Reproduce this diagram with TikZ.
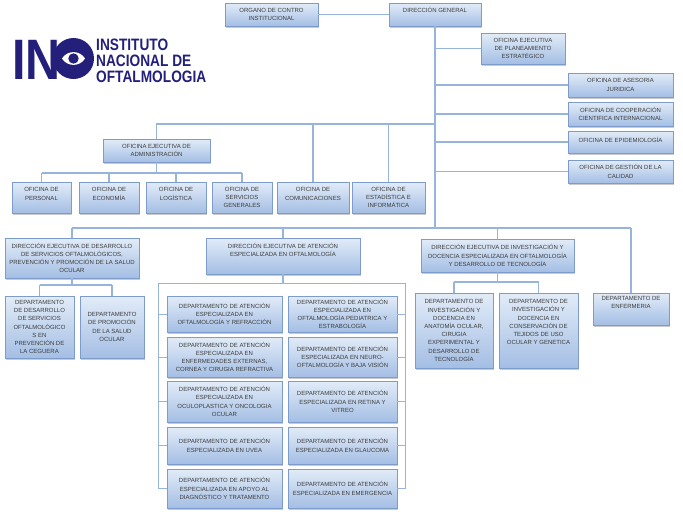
\documentclass[tikz,border=0pt]{standalone}
\usepackage{fontspec}
\setmainfont{Liberation Sans}
\usepackage{tikz}
\usetikzlibrary{shadows}
\definecolor{boxtop}{HTML}{E2ECF8}
\definecolor{boxbot}{HTML}{A4BEE4}
\definecolor{boxedge}{HTML}{7E9CCB}
\definecolor{linkc}{HTML}{97B4DC}
\definecolor{boxtext}{HTML}{3C3C3C}
\definecolor{inoblue}{HTML}{231F7A}
\newcommand\boxfont{\fontsize{6}{8.2}\selectfont}

\begin{document}
\begin{tikzpicture}[x=1pt, y=-1pt,
  unit/.style={draw=boxedge, line width=0.5pt, top color=boxtop, bottom color=boxbot, text=boxtext, font=\boxfont, align=center, inner sep=1pt, drop shadow={shadow xshift=1.2pt, shadow yshift=-1.5pt, fill=black!60, opacity=0.35}},
  sz/.style 2 args={minimum width=#1, minimum height=#2},
  lift/.style={text depth=#1},
  link/.style={draw=linkc, line width=1.1pt}]
\useasboundingbox (0,0) rectangle (683,520);
%logo
\node[anchor=base west, inner sep=0, text=inoblue, font=\fontsize{57}{57}\selectfont\bfseries] (ino) at (12,79) {\scalebox{0.85}[1]{IN}};
\node[circle, fill=inoblue, minimum size=41, inner sep=0] (ojo) at (73.5,58.5) {};
\coordinate (el) at (62,58.5);
\coordinate (er) at (85,58.5);
\fill[white] (el) .. controls +(5,-8.5) and +(-5,-8.5) .. (er) .. controls +(-5,8.5) and +(5,8.5) .. (el) -- cycle;
\fill[inoblue] (ojo.center) circle (5.2);
\node[anchor=north west, inner sep=0, text=inoblue, font=\fontsize{16.5}{16}\selectfont\bfseries] (ins) at (96,38.5) {\scalebox{0.83}[1]{\begin{tabular}{@{}l@{}}INSTITUTO\\NACIONAL DE\\OFTALMOLOGIA\end{tabular}}};

%alta direccion
\node[unit, sz={93}{23}] (oci) at (271.5,14.5) {ORGANO DE CONTRO\\INSTITUCIONAL};
\node[unit, sz={92}{23}, lift=9] (dg) at (435,14.5) {DIRECCIÓN GENERAL};
%asesoria
\node[unit, sz={84}{31}] (oplan) at (523,48.5) {OFICINA EJECUTIVA\\DE PLANEAMIENTO\\ESTRATÉGICO};
\node[unit, sz={105}{24}] (ojur) at (620.5,85) {OFICINA DE ASESORIA\\JURIDICA};
\node[unit, sz={105}{24}] (ocoop) at (620.5,114) {OFICINA DE COOPERACIÓN\\CIENTIFICA INTERNACIONAL};
\node[unit, sz={105}{22}, lift=5] (oepi) at (620.5,142) {OFICINA DE EPIDEMIOLOGÍA};
\node[unit, sz={105}{23}] (ocal) at (620.5,171.5) {OFICINA DE GESTIÓN DE LA\\CALIDAD};
%apoyo
\node[unit, sz={107}{23}] (oadm) at (156.5,150.5) {OFICINA EJECUTIVA DE\\ADMINISTRACIÓN};
\node[unit, sz={59}{31}, lift=7] (oper) at (41.5,197.5) {OFICINA DE\\PERSONAL};
\node[unit, sz={60}{31}, lift=7] (oeco) at (109,197.5) {OFICINA DE\\ECONOMÍA};
\node[unit, sz={60}{31}, lift=7] (olog) at (176,197.5) {OFICINA DE\\LOGÍSTICA};
\node[unit, sz={60}{31}] (oser) at (242,197.5) {OFICINA DE\\SERVICIOS\\GENERALES};
\node[unit, sz={72}{31}, lift=7] (ocom) at (313,197.5) {OFICINA DE\\COMUNICACIONES};
\node[unit, sz={73}{31}] (oest) at (388.5,197.5) {OFICINA DE\\ESTADÍSTICA E\\INFORMÁTICA};
%linea
\node[unit, sz={134}{40}] (dedes) at (72,258) {DIRECCIÓN EJECUTIVA DE DESARROLLO\\DE SERVICIOS OFTALMOLÓGICOS,\\PREVENCIÓN Y PROMOCIÓN DE LA SALUD\\OCULAR};
\node[unit, sz={69}{62}] (ddes) at (39.5,327) {DEPARTAMENTO\\DE DESARROLLO\\DE SERVICIOS\\OFTALMOLÓGICO\\S EN\\PREVENCIÓN DE\\LA CEGUERA};
\node[unit, sz={64}{62}] (dpro) at (112,327) {DEPARTAMENTO\\DE PROMOCIÓN\\DE LA SALUD\\OCULAR};
\node[unit, sz={154}{36}, lift=13] (deate) at (283,256) {DIRECCIÓN EJECUTIVA DE ATENCIÓN\\ESPECIALIZADA EN OFTALMOLOGÍA};
\node[unit, sz={115}{36}] (atl1) at (224.5,314) {DEPARTAMENTO DE ATENCIÓN\\ESPECIALIZADA EN\\OFTALMOLOGÍA Y REFRACCIÓN};
\node[unit, sz={115}{40}] (atl2) at (224.5,357) {DEPARTAMENTO DE ATENCIÓN\\ESPECIALIZADA EN\\ENFERMEDADES EXTERNAS,\\CORNEA Y CIRUGIA REFRACTIVA};
\node[unit, sz={115}{41}] (atl3) at (224.5,401.5) {DEPARTAMENTO DE ATENCIÓN\\ESPECIALIZADA EN\\OCULOPLASTICA Y ONCOLOGIA\\OCULAR};
\node[unit, sz={115}{37}] (atl4) at (224.5,445.5) {DEPARTAMENTO DE ATENCIÓN\\ESPECIALIZADA EN UVEA};
\node[unit, sz={115}{39}] (atl5) at (224.5,488.5) {DEPARTAMENTO DE ATENCIÓN\\ESPECIALIZADA EN APOYO AL\\DIAGNÓSTICO Y TRATAMENTO};
\node[unit, sz={109}{36}] (atr1) at (342.5,314) {DEPARTAMENTO DE ATENCIÓN\\ESPECIALIZADA EN\\OFTALMOLOGÍA PEDIATRICA Y\\ESTRABOLOGÍA};
\node[unit, sz={109}{40}] (atr2) at (342.5,357) {DEPARTAMENTO DE ATENCIÓN\\ESPECIALIZADA EN NEURO-\\OFTALMOLOGÍA Y BAJA VISIÓN};
\node[unit, sz={109}{41}] (atr3) at (342.5,401.5) {DEPARTAMENTO DE ATENCIÓN\\ESPECIALIZADA EN RETINA Y\\VITREO};
\node[unit, sz={109}{37}] (atr4) at (342.5,445.5) {DEPARTAMENTO DE ATENCIÓN\\ESPECIALIZADA EN GLAUCOMA};
\node[unit, sz={109}{39}] (atr5) at (342.5,488.5) {DEPARTAMENTO DE ATENCIÓN\\ESPECIALIZADA EN EMERGENCIA};
\node[unit, sz={153}{33}] (deinv) at (497.5,255.5) {DIRECCIÓN EJECUTIVA DE INVESTIGACIÓN Y\\DOCENCIA ESPECIALIZADA EN OFTALMOLOGÍA\\Y DESARROLLO DE TECNOLOGÍA};
\node[unit, sz={78}{75}] (dinv1) at (454,330.5) {DEPARTAMENTO DE\\INVESTIGACIÓN Y\\DOCENCIA EN\\ANATOMÍA OCULAR,\\CIRUGIA\\EXPERIMENTAL Y\\DESARROLLO DE\\TECNOLOGÍA};
\node[unit, sz={79}{75}, lift=17] (dinv2) at (538.5,330.5) {DEPARTAMENTO DE\\INVESTIGACIÓN Y\\DOCENCIA EN\\CONSERVACIÓN DE\\TEJIDOS DE USO\\OCULAR Y GENETICA};
\node[unit, sz={76}{32}, lift=13] (denf) at (631,309) {DEPARTAMENTO DE\\ENFERMERIA};

%conectores
\coordinate (main) at (0,228);
\coordinate (adm) at (0,124);
\coordinate (subadm) at (0,173);
\coordinate (subdes) at (0,285);
\coordinate (subinv) at (0,282);
\coordinate (cl) at (158,283);
\coordinate (cr) at (405,283);
\draw[link] (oci) -- (dg);
\draw[link] (dg.south) -- (dg.south |- main);
\foreach \o in {oplan,ojur,ocoop,oepi,ocal}
	\draw[link] (dg.south |- \o.west) -- (\o.west);
\draw[link] (dg.south |- adm) -- (oadm.north |- adm) -- (oadm.north);
\foreach \o in {ocom,oest}
	\draw[link] (\o.north |- adm) -- (\o.north);
\draw[link] (oadm.south) -- (oadm.south |- subadm);
\draw[link] (oper.north |- subadm) -- (oser.north |- subadm);
\foreach \o in {oper,oeco,olog,oser}
	\draw[link] (\o.north |- subadm) -- (\o.north);
\draw[link] (dedes.north |- main) -- (denf.north |- main);
\foreach \d in {dedes,deate,deinv,denf}
	\draw[link] (\d.north |- main) -- (\d.north);
\draw[link] (dedes.south) -- (dedes.south |- subdes);
\draw[link] (ddes.north |- subdes) -- (dpro.north |- subdes);
\foreach \d in {ddes,dpro}
	\draw[link] (\d.north |- subdes) -- (\d.north);
\draw[link] (deate.south) -- (deate.south |- cl);
\draw[link, line width=0.8pt] (cl |- atl5.west) -- (cl) -- (cr) -- (cr |- atr5.east);
\foreach \i in {1,...,5}{
	\draw[link, line width=0.8pt] (cl |- atl\i.west) -- (atl\i.west);
	\draw[link, line width=0.8pt] (cr |- atr\i.east) -- (atr\i.east);
}
\draw[link] (deinv.south) -- (deinv.south |- subinv);
\draw[link] (dinv1.north |- subinv) -- (dinv2.north |- subinv);
\foreach \d in {dinv1,dinv2}
	\draw[link] (\d.north |- subinv) -- (\d.north);
\end{tikzpicture}
\end{document}
